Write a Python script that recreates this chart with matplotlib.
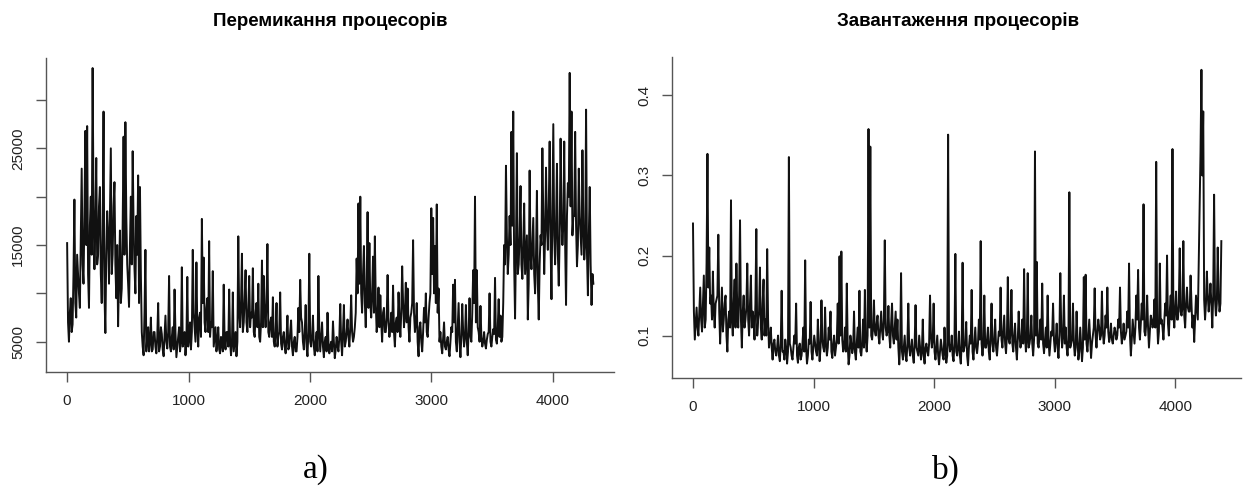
import numpy as np
import matplotlib.pyplot as plt

# series: main samples every 15 steps,
# plus the in-between samples (half a step later)
step = 15

# processor switches, thousands
switches_a = [15.2, 5.0, 9.5, 6.8, 19.7, 7.5, 12.0, 8.5, 22.9, 11.0,
              26.8, 27.3, 8.5, 20.0, 33.3, 12.5, 24.0, 14.0, 21.0, 9.0,
              28.8, 5.9, 18.5, 11.0, 25.0, 14.0, 21.5, 9.5, 6.6, 16.5,
              10.5, 26.2, 27.7, 13.0, 8.6, 20.0, 24.7, 12.5, 18.0, 22.2]
switches_b = [21.0, 6.0, 3.6, 14.5, 5.5, 4.0, 7.5, 4.2, 6.0, 3.8,
              9.0, 4.5, 5.8, 3.5, 7.7, 4.3, 11.8, 4.0, 6.5, 10.4,
              3.4, 5.5, 4.0, 12.7, 5.0, 3.6, 11.7, 5.5, 4.2, 14.5,
              6.5, 13.2, 4.5, 8.0, 17.7, 13.7, 6.0, 9.5, 15.4, 7.0]
switches_c = [12.3, 5.5, 4.0, 6.5, 3.8, 5.0, 10.9, 4.2, 6.0, 10.4,
              3.6, 10.1, 5.0, 3.5, 15.9, 6.5, 14.1, 7.0, 12.4, 6.0,
              11.8, 8.0, 12.6, 5.5, 9.0, 11.0, 5.0, 13.4, 11.8, 6.5,
              15.1, 5.5, 7.5, 9.6, 4.5, 9.0, 5.5, 10.1, 4.2, 6.0]
switches_d = [3.8, 7.7, 4.5, 7.2, 3.6, 5.5, 4.0, 8.5, 11.4, 7.0,
              4.2, 8.8, 3.5, 14.1, 4.5, 7.7, 3.6, 6.0, 11.8, 4.0,
              7.0, 3.4, 5.5, 8.0, 3.8, 5.0, 7.1, 3.3, 5.5, 4.0,
              8.9, 3.6, 8.8, 5.0, 7.3, 4.5, 9.8, 5.0, 6.5, 13.6]
switches_e = [19.3, 20.0, 8.0, 14.9, 6.5, 18.4, 15.2, 7.5, 13.8, 15.9,
              6.0, 10.6, 9.8, 5.0, 8.5, 6.0, 11.9, 5.5, 8.0, 10.8,
              4.5, 7.5, 10.1, 5.5, 12.8, 6.5, 11.1, 10.5, 5.0, 8.0,
              15.5, 6.0, 9.0, 3.5, 7.0, 4.0, 8.5, 10.0, 5.5, 9.0]
switches_f = [18.8, 17.8, 14.9, 19.2, 10.5, 6.0, 3.8, 7.0, 4.2, 5.5,
              3.5, 6.5, 10.9, 11.4, 4.0, 9.0, 3.4, 8.9, 4.5, 8.8,
              3.6, 9.5, 5.0, 12.4, 20.0, 12.4, 6.0, 8.7, 4.5, 6.0,
              4.3, 5.8, 10.0, 4.5, 6.3, 11.6, 4.8, 9.4, 7.7, 5.5]
switches_g = [15.0, 23.2, 12.0, 18.0, 26.7, 28.8, 7.4, 24.5, 13.0, 21.1,
              11.5, 19.3, 14.0, 7.3, 22.7, 12.5, 17.8, 10.0, 20.6, 7.3,
              16.0, 25.0, 12.0, 23.0, 14.5, 25.7, 9.4, 27.5, 13.0, 23.4,
              10.8, 26.0, 15.0, 25.7, 8.8, 21.4, 32.8, 28.8, 18.0, 26.7,
              12.8, 22.9, 16.0, 24.8, 13.5, 29.0, 9.8, 21.0, 8.8, 11.0]

switches_mid_a = [7.0, 8.0, 6.0, 12.0, 9.0, 14.0, 10.0, 16.0, 13.0, 18.0,
                  15.0, 12.0, 17.0, 14.0, 19.0, 17.0, 13.0, 19.0, 12.0, 16.0,
                  10.0, 14.0, 16.0, 18.0, 12.0, 19.0, 13.0, 15.0, 12.0, 9.0,
                  17.0, 14.0, 18.0, 11.0, 15.0, 13.0, 17.0, 10.0, 14.0, 9.0]
switches_mid_b = [12.0, 4.5, 8.0, 4.0, 6.5, 5.0, 4.0, 6.0, 4.5, 5.5,
                  4.0, 6.5, 4.2, 5.5, 5.0, 6.0, 4.5, 5.5, 4.2, 6.0,
                  4.5, 6.5, 5.0, 4.5, 6.0, 5.0, 4.5, 7.0, 6.0, 8.0,
                  5.0, 6.5, 7.5, 5.5, 9.0, 7.0, 8.5, 6.0, 5.5, 6.5]
switches_mid_c = [4.5, 6.5, 5.0, 4.2, 5.5, 4.0, 5.0, 6.0, 4.5, 5.0,
                  4.8, 4.0, 6.0, 5.0, 8.0, 9.0, 6.0, 9.5, 7.0, 8.5,
                  6.5, 7.5, 6.0, 8.0, 6.5, 5.5, 7.0, 6.5, 8.0, 9.0,
                  6.0, 7.0, 5.5, 5.0, 6.0, 4.5, 6.0, 4.8, 5.5, 4.5]
switches_mid_d = [5.5, 4.2, 6.0, 4.5, 5.0, 4.0, 5.5, 6.0, 7.5, 5.0,
                  6.0, 4.5, 6.0, 5.0, 5.5, 4.5, 5.0, 4.0, 6.0, 5.5,
                  4.5, 5.0, 4.0, 5.0, 4.5, 4.0, 5.0, 4.2, 4.6, 5.5,
                  5.0, 6.0, 4.5, 6.0, 5.5, 6.5, 6.0, 5.5, 8.0, 10.0]
switches_mid_e = [11.0, 10.0, 12.0, 9.0, 11.0, 8.5, 9.0, 10.0, 8.0, 9.0,
                  7.5, 6.5, 7.0, 8.0, 6.0, 7.5, 7.0, 6.5, 6.0, 6.0,
                  7.0, 6.0, 7.5, 8.0, 9.0, 8.0, 7.0, 6.5, 7.5, 9.0,
                  8.0, 7.0, 5.0, 6.5, 5.0, 6.0, 7.0, 6.0, 7.5, 10.0]
switches_mid_f = [12.0, 10.0, 9.0, 8.0, 5.0, 4.5, 5.5, 4.5, 5.0, 4.2,
                  5.0, 6.0, 7.0, 5.0, 6.5, 5.0, 5.5, 6.0, 5.5, 5.0,
                  6.0, 5.5, 8.0, 9.0, 7.0, 6.5, 5.0, 5.5, 5.0, 4.8,
                  5.2, 6.0, 5.0, 5.5, 5.8, 5.2, 6.5, 5.5, 5.0, 9.0]
switches_mid_g = [13.0, 16.0, 14.0, 15.0, 17.0, 13.0, 15.0, 12.0, 16.0, 13.0,
                  15.0, 12.0, 16.0, 11.0, 14.0, 15.0, 12.0, 14.0, 11.0, 13.0,
                  15.0, 18.0, 16.0, 17.0, 19.0, 15.0, 18.0, 16.0, 17.0, 14.0,
                  16.0, 18.0, 17.0, 15.0, 18.0, 20.0, 19.0, 16.0, 18.0, 17.0,
                  15.0, 18.0, 14.0, 17.0, 15.0, 14.0, 16.0, 13.0, 12.0]

# processor load
load_a = [0.240, 0.095, 0.135, 0.100, 0.160, 0.105, 0.175, 0.120, 0.327, 0.210,
          0.150, 0.180, 0.110, 0.145, 0.226, 0.090, 0.160, 0.120, 0.150, 0.080,
          0.130, 0.269, 0.100, 0.170, 0.190, 0.110, 0.244, 0.085, 0.150, 0.120,
          0.190, 0.100, 0.175, 0.130, 0.095, 0.233, 0.120, 0.185, 0.095, 0.170]
load_b = [0.120, 0.208, 0.085, 0.110, 0.070, 0.095, 0.075, 0.100, 0.068, 0.156,
          0.080, 0.095, 0.065, 0.323, 0.085, 0.070, 0.100, 0.140, 0.066, 0.090,
          0.075, 0.110, 0.194, 0.065, 0.095, 0.142, 0.070, 0.100, 0.080, 0.120,
          0.068, 0.144, 0.085, 0.135, 0.075, 0.110, 0.130, 0.072, 0.100, 0.085]
load_c = [0.140, 0.199, 0.205, 0.080, 0.110, 0.165, 0.064, 0.100, 0.078, 0.130,
          0.070, 0.110, 0.156, 0.075, 0.120, 0.157, 0.080, 0.358, 0.336, 0.095,
          0.144, 0.100, 0.125, 0.090, 0.130, 0.095, 0.219, 0.100, 0.137, 0.085,
          0.140, 0.090, 0.130, 0.120, 0.064, 0.178, 0.070, 0.100, 0.068, 0.140]
load_d = [0.075, 0.095, 0.066, 0.138, 0.080, 0.100, 0.070, 0.120, 0.065, 0.090,
          0.075, 0.150, 0.085, 0.140, 0.070, 0.100, 0.064, 0.095, 0.075, 0.110,
          0.066, 0.351, 0.080, 0.100, 0.068, 0.202, 0.075, 0.105, 0.065, 0.191,
          0.085, 0.117, 0.063, 0.100, 0.157, 0.070, 0.110, 0.078, 0.120, 0.218]
load_e = [0.075, 0.150, 0.085, 0.110, 0.070, 0.140, 0.080, 0.120, 0.075, 0.105,
          0.160, 0.085, 0.125, 0.078, 0.173, 0.090, 0.157, 0.080, 0.115, 0.070,
          0.130, 0.085, 0.120, 0.183, 0.080, 0.178, 0.090, 0.125, 0.075, 0.330,
          0.192, 0.085, 0.120, 0.165, 0.078, 0.110, 0.150, 0.075, 0.105, 0.140]
load_f = [0.080, 0.115, 0.072, 0.178, 0.085, 0.150, 0.110, 0.075, 0.279, 0.090,
          0.140, 0.075, 0.130, 0.070, 0.110, 0.068, 0.173, 0.176, 0.080, 0.120,
          0.072, 0.100, 0.159, 0.085, 0.120, 0.095, 0.155, 0.090, 0.125, 0.160,
          0.092, 0.115, 0.090, 0.110, 0.095, 0.120, 0.160, 0.090, 0.115, 0.100]
load_g = [0.130, 0.190, 0.075, 0.120, 0.090, 0.150, 0.182, 0.095, 0.140, 0.264,
          0.100, 0.150, 0.085, 0.125, 0.110, 0.145, 0.317, 0.090, 0.190, 0.120,
          0.095, 0.140, 0.200, 0.100, 0.150, 0.333, 0.110, 0.155, 0.120, 0.209,
          0.125, 0.218, 0.110, 0.160, 0.130, 0.175, 0.110, 0.092, 0.150, 0.120,
          0.260, 0.432, 0.380, 0.120, 0.180, 0.130, 0.165, 0.110, 0.276, 0.125,
          0.210, 0.130, 0.218]

load_mid_a = [0.130, 0.115, 0.110, 0.130, 0.120, 0.140, 0.110, 0.190, 0.160, 0.140,
              0.120, 0.130, 0.140, 0.150, 0.130, 0.125, 0.105, 0.140, 0.100, 0.120,
              0.110, 0.120, 0.140, 0.110, 0.130, 0.150, 0.120, 0.130, 0.110, 0.135,
              0.120, 0.140, 0.110, 0.120, 0.140, 0.100, 0.130, 0.110, 0.140, 0.100]
load_mid_b = [0.100, 0.120, 0.095, 0.085, 0.090, 0.080, 0.085, 0.075, 0.090, 0.080,
              0.070, 0.085, 0.080, 0.090, 0.075, 0.085, 0.090, 0.075, 0.085, 0.070,
              0.090, 0.080, 0.085, 0.075, 0.090, 0.080, 0.085, 0.090, 0.075, 0.090,
              0.085, 0.095, 0.080, 0.090, 0.085, 0.095, 0.080, 0.090, 0.075, 0.095]
load_mid_c = [0.090, 0.100, 0.095, 0.085, 0.080, 0.090, 0.075, 0.090, 0.085, 0.080,
              0.090, 0.085, 0.080, 0.090, 0.085, 0.095, 0.100, 0.110, 0.100, 0.110,
              0.105, 0.115, 0.100, 0.110, 0.105, 0.120, 0.110, 0.105, 0.100, 0.115,
              0.100, 0.110, 0.095, 0.085, 0.090, 0.080, 0.085, 0.075, 0.090, 0.085]
load_mid_d = [0.085, 0.075, 0.090, 0.085, 0.075, 0.085, 0.080, 0.075, 0.085, 0.080,
              0.090, 0.100, 0.095, 0.080, 0.085, 0.075, 0.080, 0.085, 0.070, 0.080,
              0.075, 0.090, 0.085, 0.075, 0.090, 0.080, 0.085, 0.075, 0.090, 0.080,
              0.090, 0.075, 0.085, 0.090, 0.080, 0.090, 0.085, 0.090, 0.095, 0.090]
load_mid_e = [0.090, 0.085, 0.095, 0.080, 0.100, 0.090, 0.095, 0.085, 0.090, 0.100,
              0.095, 0.105, 0.090, 0.100, 0.095, 0.105, 0.090, 0.100, 0.085, 0.095,
              0.100, 0.095, 0.090, 0.100, 0.095, 0.085, 0.100, 0.090, 0.095, 0.100,
              0.090, 0.100, 0.095, 0.090, 0.095, 0.085, 0.095, 0.090, 0.100, 0.095]
load_mid_f = [0.095, 0.085, 0.100, 0.110, 0.100, 0.090, 0.085, 0.095, 0.085, 0.095,
              0.090, 0.085, 0.095, 0.080, 0.090, 0.085, 0.095, 0.090, 0.100, 0.095,
              0.090, 0.110, 0.100, 0.105, 0.110, 0.100, 0.105, 0.100, 0.110, 0.105,
              0.100, 0.095, 0.100, 0.105, 0.100, 0.110, 0.105, 0.100, 0.095, 0.105]
load_mid_g = [0.110, 0.100, 0.095, 0.105, 0.110, 0.120, 0.110, 0.115, 0.120, 0.105,
              0.115, 0.110, 0.105, 0.120, 0.115, 0.110, 0.120, 0.105, 0.115, 0.110,
              0.120, 0.125, 0.115, 0.130, 0.120, 0.125, 0.135, 0.120, 0.140, 0.130,
              0.135, 0.125, 0.140, 0.135, 0.130, 0.140, 0.125, 0.120, 0.135, 0.190,
              0.330, 0.300, 0.145, 0.140, 0.150, 0.145, 0.140, 0.150, 0.145, 0.140,
              0.150, 0.140]

titles = ['Перемикання процесорів', 'Завантаження процесорів']
panel_tags = ['a)', 'b)']
x_ticks = [0, 1000, 2000, 3000, 4000]
switch_ticks = [5000, 10000, 15000, 20000, 25000, 30000]
switch_labels = ['5000', '', '15000', '', '25000', '']
load_ticks = [0.1, 0.2, 0.3, 0.4]


def weave(main, mid):
    out = np.empty(len(main) + len(mid))
    out[0::2] = main
    out[1::2] = mid
    return out


switches = weave(switches_a + switches_b + switches_c + switches_d
                 + switches_e + switches_f + switches_g,
                 switches_mid_a + switches_mid_b + switches_mid_c + switches_mid_d
                 + switches_mid_e + switches_mid_f + switches_mid_g) * 1000
load = weave(load_a + load_b + load_c + load_d + load_e + load_f + load_g,
             load_mid_a + load_mid_b + load_mid_c + load_mid_d
             + load_mid_e + load_mid_f + load_mid_g)

#%%

W, H = 1251, 487
fig = plt.figure(figsize=(W / 100, H / 100), dpi=100)


def px_axes(x0, y0, x1, y1):
    return fig.add_axes([x0 / W, 1 - y1 / H, (x1 - x0) / W, (y1 - y0) / H])


ax1 = px_axes(46, 58, 614, 372)
ax2 = px_axes(672, 57, 1241, 378)

ax1.plot(np.arange(len(switches)) * step / 2, switches, color='#111111', lw=1.4)
ax1.set_xlim(-174, 4505)
ax1.set_ylim(1870, 34340)
ax1.set_yticks(switch_ticks)
ax1.set_yticklabels(switch_labels)

ax2.plot(np.arange(len(load)) * step / 2, load, color='#111111', lw=1.4)
ax2.set_xlim(-174, 4543)
ax2.set_ylim(0.047, 0.448)
ax2.set_yticks(load_ticks)
ax2.set_yticklabels([str(v) for v in load_ticks])

for ax in (ax1, ax2):
    ax.set_xticks(x_ticks)
    for side in ('top', 'right'):
        ax.spines[side].set_visible(False)
    for side in ('left', 'bottom'):
        ax.spines[side].set_color('#555555')
        ax.spines[side].set_linewidth(1)
    ax.tick_params(color='#555555', length=7, width=1, pad=9,
                   labelsize=11, labelcolor='#222222')
    ax.tick_params(axis='y', labelrotation=90, pad=8)
    for lab in ax.get_xticklabels() + ax.get_yticklabels():
        lab.set_fontfamily('Liberation Sans')
    for lab in ax.get_yticklabels():
        lab.set_va('center')

fig.text(330 / W, 1 - 21 / H, titles[0], ha='center', va='center',
         fontsize=13.5, fontweight='bold', family='Liberation Sans')
fig.text(958 / W, 1 - 21 / H, titles[1], ha='center', va='center',
         fontsize=13.5, fontweight='bold', family='Liberation Sans')

fig.text(316 / W, 1 - 470 / H, panel_tags[0], ha='center', va='center',
         fontsize=24, family='Liberation Serif')
fig.text(946 / W, 1 - 470 / H, panel_tags[1], ha='center', va='center',
         fontsize=24, family='Liberation Serif')

fig.savefig('out.png', dpi=100)
